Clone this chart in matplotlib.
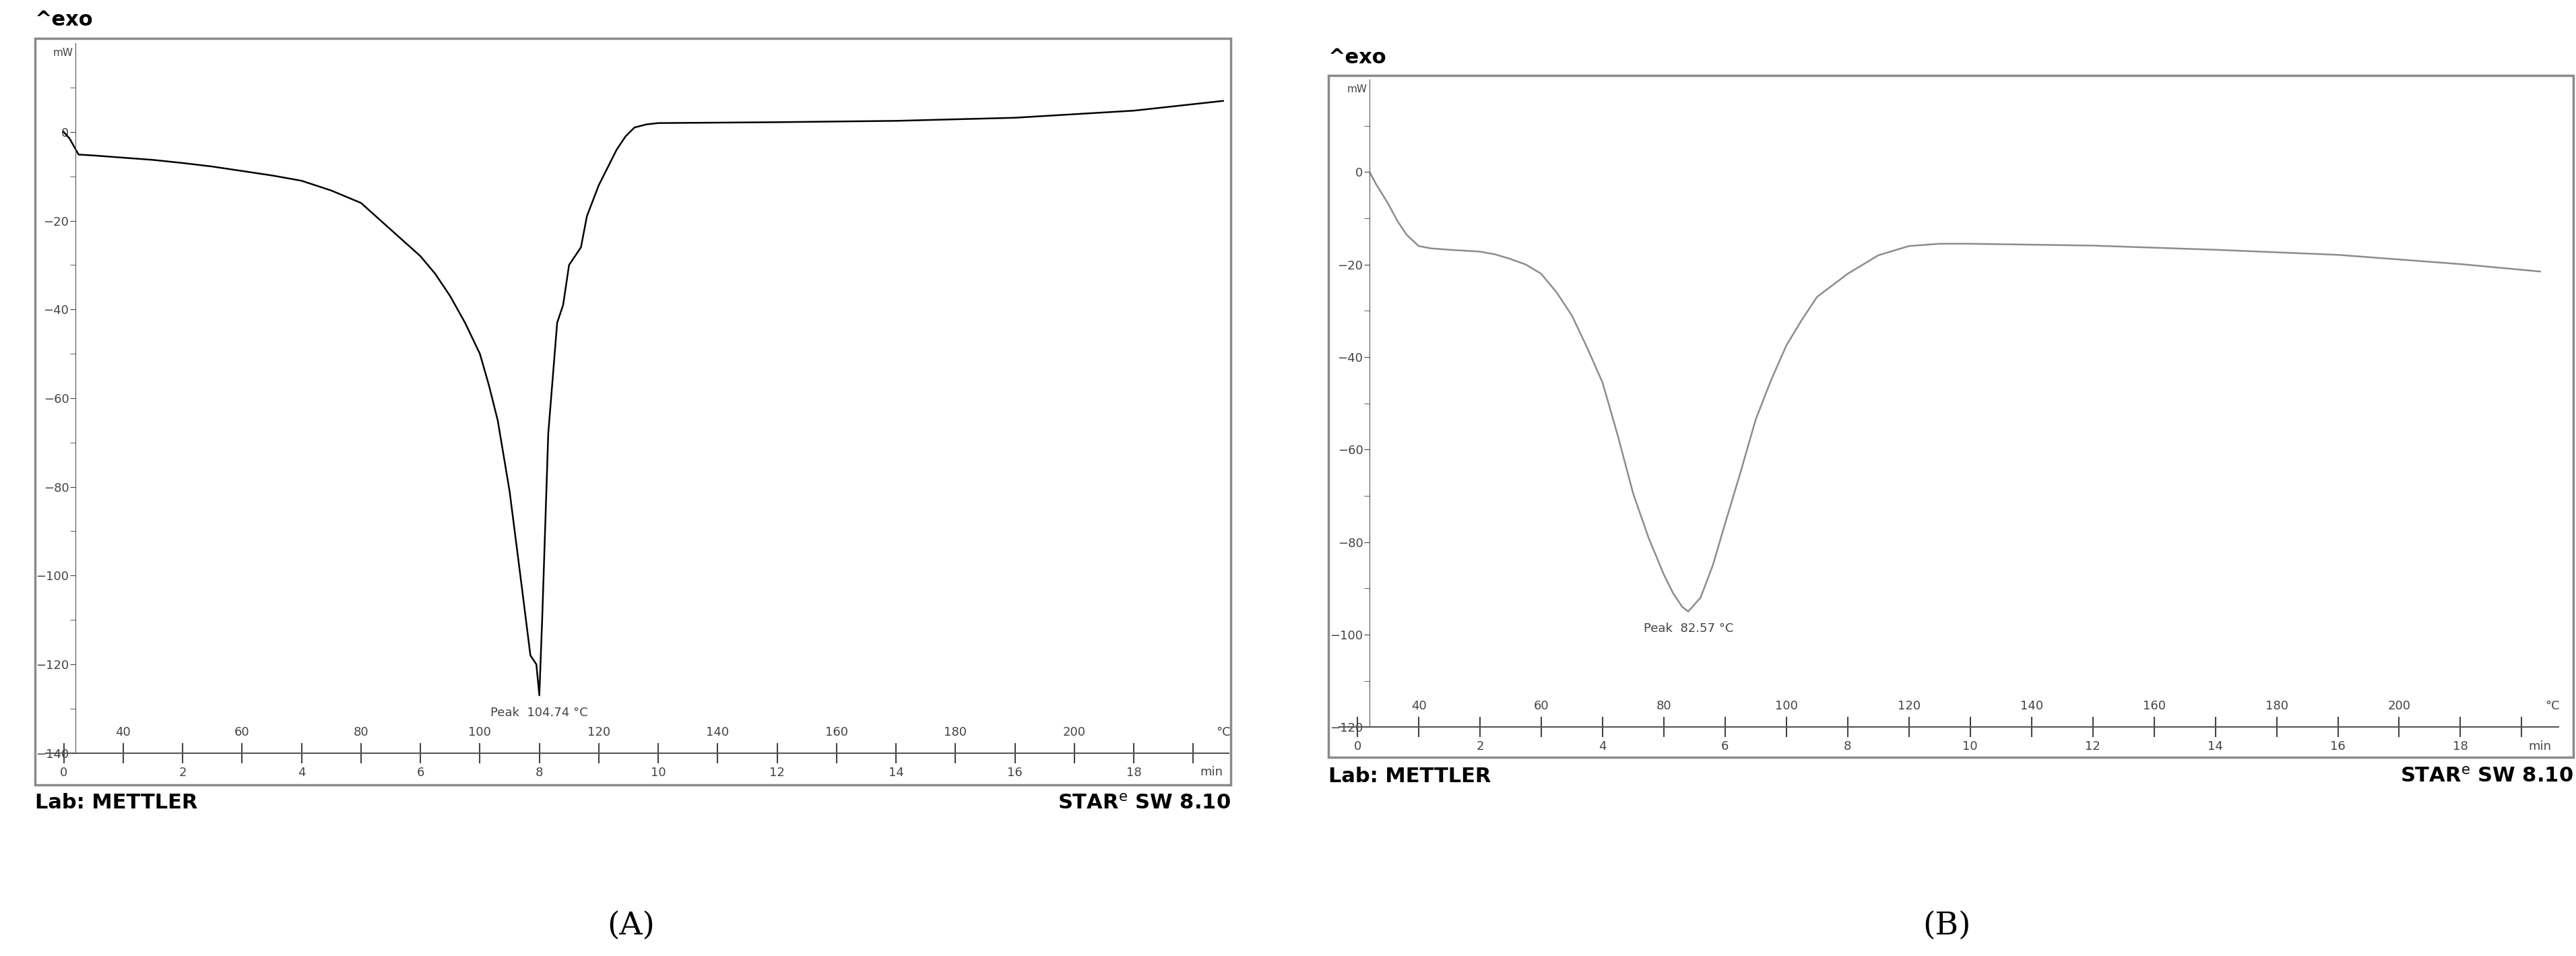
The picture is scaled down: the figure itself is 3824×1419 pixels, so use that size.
import matplotlib.pyplot as plt

# panel A (time in min, heat flow in mW)
time_a = [0.0, 0.1, 0.25, 0.5, 1, 1.5, 2, 2.5, 3, 3.5, 4, 4.5, 5, 5.25, 5.5, 5.75, 6, 6.25,
          6.5, 6.75, 7, 7.15, 7.3, 7.5, 7.7, 7.85, 7.95, 8.0, 8.05, 8.15, 8.3, 8.4, 8.5, 8.7,
          8.8, 9.0, 9.15, 9.3, 9.45, 9.6, 9.8, 10, 12, 14, 16, 17, 18, 19.5]
flow_a = [0.0, -1.5, -5.1, -5.3, -5.8, -6.3, -7.0, -7.8, -8.8, -9.8, -11, -13.2, -16, -19,
          -22, -25, -28, -32, -37, -43, -50, -57, -65, -81, -102, -118, -120, -127, -109, -68,
          -43, -39, -30, -26, -19, -12, -8, -4, -1, 1, 1.7, 2, 2.2, 2.5, 3.2, 4, 4.8, 7]
# panel B
time_b = [0.2, 0.3, 0.5, 0.65, 0.8, 1, 1.2, 1.5, 2, 2.25, 2.5, 2.75, 3, 3.25, 3.5, 3.75, 4,
          4.25, 4.5, 4.75, 5, 5.15, 5.3, 5.4, 5.6, 5.8, 6, 6.25, 6.5, 6.75, 7, 7.25, 7.5, 7.75,
          8, 8.25, 8.5, 8.75, 9, 9.5, 10, 12, 14, 16, 18, 19.3]
flow_b = [0.0, -2.5, -6.8, -10.5, -13.5, -16, -16.5, -16.8, -17.2, -17.8, -18.8, -20, -22,
          -26, -31, -38, -45.5, -57, -69.5, -79, -87, -91, -94, -95, -92, -85, -76, -65, -53.5,
          -45, -37.5, -32, -27, -24.5, -22, -20, -18, -17, -16, -15.5, -15.5, -15.9, -16.8,
          -17.9, -19.9, -21.5]

min_ticks = list(range(0, 20, 2))
temp_ticks = [40, 60, 80, 100, 120, 140, 160, 180, 200]
peak_a = ('Peak  104.74 °C', 8.0, -127)
peak_b = ('Peak  82.57 °C', 5.4, -95)

fig = plt.figure(figsize=(38.24, 14.19), dpi=100)


def panel(frame, axpos, t, y, ymin, color, peak, letter, letter_x, exo_y, lab_y):
    fx0, fy0, fx1, fy1 = frame
    fig.patches.append(plt.Rectangle((fx0, fy0), fx1 - fx0, fy1 - fy0, transform=fig.transFigure,
                                     fill=False, edgecolor='#8a8a8a', lw=2.5))
    ax = fig.add_axes(axpos)
    ax.plot(t, y, color=color, lw=1.8, solid_joinstyle='round')
    ax.set_xlim(-0.3, 19.6)
    ax.set_ylim(ymin, 20)
    for s in ['top', 'right']:
        ax.spines[s].set_visible(False)
    ax.spines['left'].set_position(('data', 0.2))
    ax.spines['left'].set_color('#555555')
    ax.spines['bottom'].set_color('#555555')
    ax.spines['bottom'].set_linewidth(1.5)
    ax.set_yticks(list(range(ymin, 1, 20)))
    ax.set_yticks(list(range(ymin, 20, 10)), minor=True)
    ax.tick_params(axis='y', which='both', direction='out', length=6, labelsize=13,
                   colors='#444444', pad=1)
    ax.set_xticks(min_ticks)
    ax.set_xticks(list(range(0, 20)), minor=True)
    ax.tick_params(axis='x', which='both', direction='inout', length=22, labelsize=13,
                   colors='#444444', width=1.5)
    ax.text(0.16, 19, 'mW', fontsize=11, ha='right', va='top', color='#444444')
    for i, tc in enumerate(temp_ticks):
        ax.annotate(str(tc), (1 + 2 * i, ymin), xytext=(0, 16), textcoords='offset points',
                    ha='center', va='bottom', fontsize=13, color='#444444')
    ax.annotate('°C', (19.5, ymin), xytext=(0, 16), textcoords='offset points',
                ha='center', va='bottom', fontsize=13, color='#444444')
    ax.annotate('min', (19.3, ymin), xytext=(0, -14), textcoords='offset points',
                ha='center', va='top', fontsize=13, color='#444444')
    ax.annotate(peak[0], (peak[1], peak[2]), xytext=(0, -12), textcoords='offset points',
                ha='center', va='top', fontsize=13, color='#444444')
    fig.text(fx0, exo_y, '^exo', fontsize=22, fontweight='bold', ha='left', va='center')
    fig.text(fx0, lab_y, 'Lab: METTLER', fontsize=22, fontweight='bold', ha='left', va='center')
    fig.text(fx1, lab_y, 'STAR$^{\\rm e}$ SW 8.10', fontsize=22, fontweight='bold', ha='right',
             va='center')
    fig.text(letter_x, 0.032, '(' + letter + ')', fontsize=34, family='DejaVu Serif',
             ha='center', va='center')
    return ax


panel((0.0135, 0.179, 0.4777, 0.960), [0.0178, 0.2123, 0.4593, 0.7425], time_a, flow_a, -140,
      'black', peak_a, 'A', 0.245, 0.979, 0.16)
panel((0.5156, 0.208, 0.999, 0.921), [0.5198, 0.2394, 0.4734, 0.6774], time_b, flow_b, -120,
      '#8c8c8c', peak_b, 'B', 0.7557, 0.94, 0.188)

fig.savefig('out.png', dpi=100)
